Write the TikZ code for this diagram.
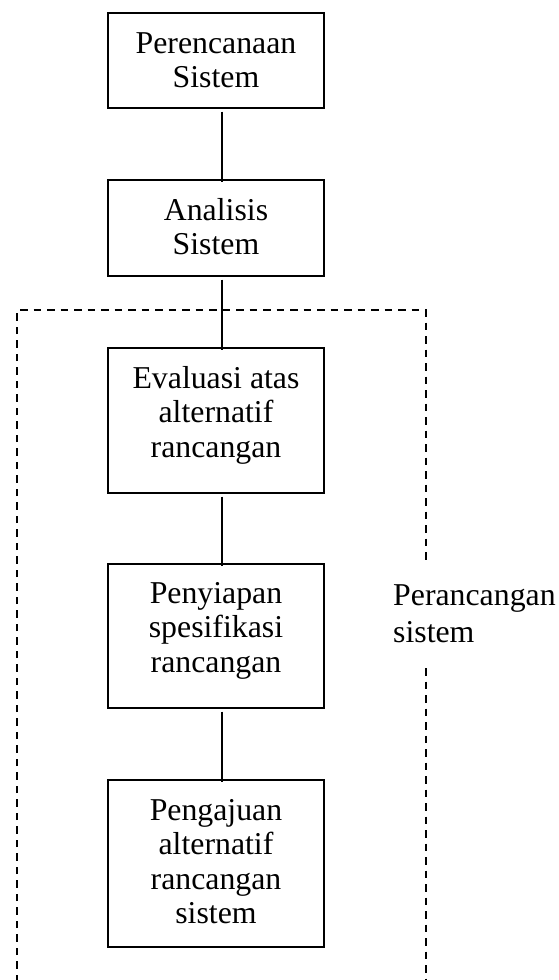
\documentclass[tikz,border=0pt]{standalone}
\usepackage{fontspec}
\setmainfont{Liberation Serif}
\begin{document}
\begin{tikzpicture}[x=1pt,y=-1pt,
  font=\fontsize{31.8}{34.5}\selectfont,
  stagebox/.style={draw, line width=1.6pt, minimum width=216pt, inner sep=0pt, anchor=north},
  stagetext/.style={anchor=base, inner sep=0pt},
  link/.style={line width=1.5pt},
  frame/.style={line width=1.8pt, dash pattern=on 7.5pt off 6pt}]
\useasboundingbox (0,0) rectangle (558,980);

% stage boxes
\node[stagebox, minimum height=95pt]  (plan) at (216,12)  {};
\node[stagebox, minimum height=96pt]  (anal) at (216,179) {};
\node[stagebox, minimum height=145pt] (eval) at (216,347) {};
\node[stagebox, minimum height=144pt] (spec) at (216,563) {};
\node[stagebox, minimum height=167pt] (prop) at (216,779) {};

% stage captions, first baseline fixed below each box top
\node[stagetext] (planT) at (216,53)  {\begin{tabular}[t]{@{}c@{}}Perencanaan\\Sistem\end{tabular}};
\node[stagetext] (analT) at (216,220) {\begin{tabular}[t]{@{}c@{}}Analisis\\Sistem\end{tabular}};
\node[stagetext] (evalT) at (216,388) {\begin{tabular}[t]{@{}c@{}}Evaluasi atas\\alternatif\\rancangan\end{tabular}};
\node[stagetext] (specT) at (216,603) {\begin{tabular}[t]{@{}c@{}}Penyiapan\\spesifikasi\\rancangan\end{tabular}};
\node[stagetext] (propT) at (216,820) {\begin{tabular}[t]{@{}c@{}}Pengajuan\\alternatif\\rancangan\\sistem\end{tabular}};

% connectors
\foreach \a/\b in {plan/anal, anal/eval, eval/spec, spec/prop}
  \draw[link] ([xshift=6pt,yshift=-3pt]\a.south) -- ([xshift=6pt,yshift=-3pt]\b.north);

% dashed frame around the design phase, open at the bottom
\coordinate (fBL) at (17,982);
\coordinate (fTL) at (17,310);
\coordinate (fTR) at (426,310);
\coordinate (fGapA) at (426,563);
\coordinate (fGapB) at (426,668);
\coordinate (fBR) at (426,982);
\draw[frame] (fBL) -- (fTL) -- (fTR) -- (fGapA);
\draw[frame] (fGapB) -- (fBR);

% phase caption in the frame gap
\node[anchor=base west, inner sep=0pt] (phase) at (393,605)
  {\begin{tabular}[t]{@{}l@{}}Perancangan\\[2.5pt]sistem\end{tabular}};
\end{tikzpicture}
\end{document}
